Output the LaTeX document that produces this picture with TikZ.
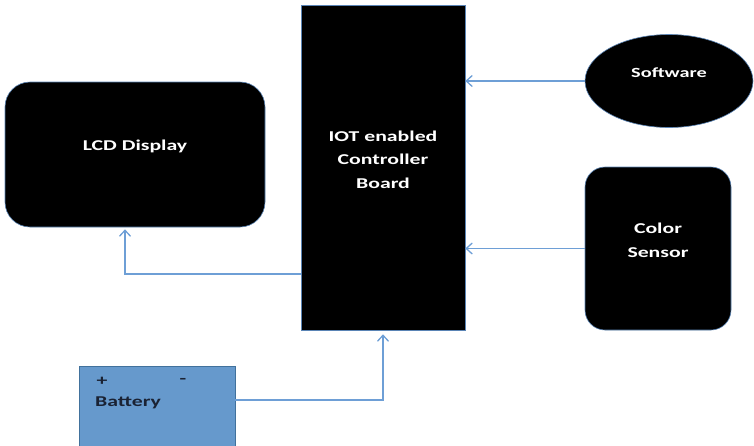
\documentclass[tikz,border=0pt]{standalone}
\usepackage{fontspec}
\setmainfont{Carlito}
\newfontfamily\lblfont[FakeStretch=1.45]{Carlito}
\usetikzlibrary{arrows.meta,shapes.geometric}
\definecolor{linkblue}{HTML}{6E9FD6}
\definecolor{edgeblue}{HTML}{5A84B5}
\definecolor{battfill}{HTML}{6699CC}
\definecolor{battedge}{HTML}{41719C}
\definecolor{battink}{HTML}{1A2233}
\begin{document}
\begin{tikzpicture}[x=1pt,y=-1pt,
  blockbox/.style={fill=black, draw=edgeblue, line width=0.6pt, inner sep=0pt},
  lbl/.style={text=white, font=\lblfont\bfseries\fontsize{15}{23.5}\selectfont, align=center, inner sep=0pt},
  battlbl/.style={text=battink, font=\lblfont\bfseries\fontsize{15}{20}\selectfont, inner sep=0pt},
  link/.style={draw=linkblue, line width=1.3pt, -{Straight Barb[length=6pt,width=11pt]}}]
\useasboundingbox (0,0) rectangle (754,445);

% blocks
\node[blockbox, rectangle, minimum width=164pt, minimum height=325pt] (board) at (383,167.5) {};
\node[blockbox, rectangle, rounded corners=25pt, minimum width=260pt, minimum height=145pt] (lcd) at (135,154.5) {};
\node[blockbox, ellipse, minimum width=168pt, minimum height=93pt] (soft) at (669,81) {};
\node[blockbox, rectangle, rounded corners=20pt, minimum width=146pt, minimum height=163pt] (sensor) at (658,248.5) {};
\node[rectangle, fill=battfill, draw=battedge, line width=0.8pt, minimum width=156pt, minimum height=84pt, inner sep=0pt] (batt) at (157,408) {};

% labels
\node[lbl, yshift=8pt] (boardtext) at (board.center) {IOT enabled\\Controller\\Board};
\node[lbl, yshift=8pt] (lcdtext) at (lcd.center) {LCD Display};
\node[lbl, yshift=8pt, font=\lblfont\bfseries\fontsize{14}{20}\selectfont] (softtext) at (soft.center) {Software};
\node[lbl, yshift=8pt] (sensortext) at (sensor.center) {Color\\Sensor};
\node[battlbl] (plus) at (102,381) {+};
\node[battlbl] (minus) at (183,381) {-};
\node[battlbl, anchor=west] (batttext) at (95,403) {Battery};

% connectors
\draw[link] (soft.west) -- (soft.west -| board.east);
\draw[link] (sensor.west) -- (sensor.west -| board.east);
\draw[link, shorten >=2pt] ([yshift=-106.5pt]board.west) -| ([xshift=-10pt]lcd.south);
\draw[link, shorten >=4pt] ([yshift=8pt]batt.east) -| (board.south);
\end{tikzpicture}
\end{document}
